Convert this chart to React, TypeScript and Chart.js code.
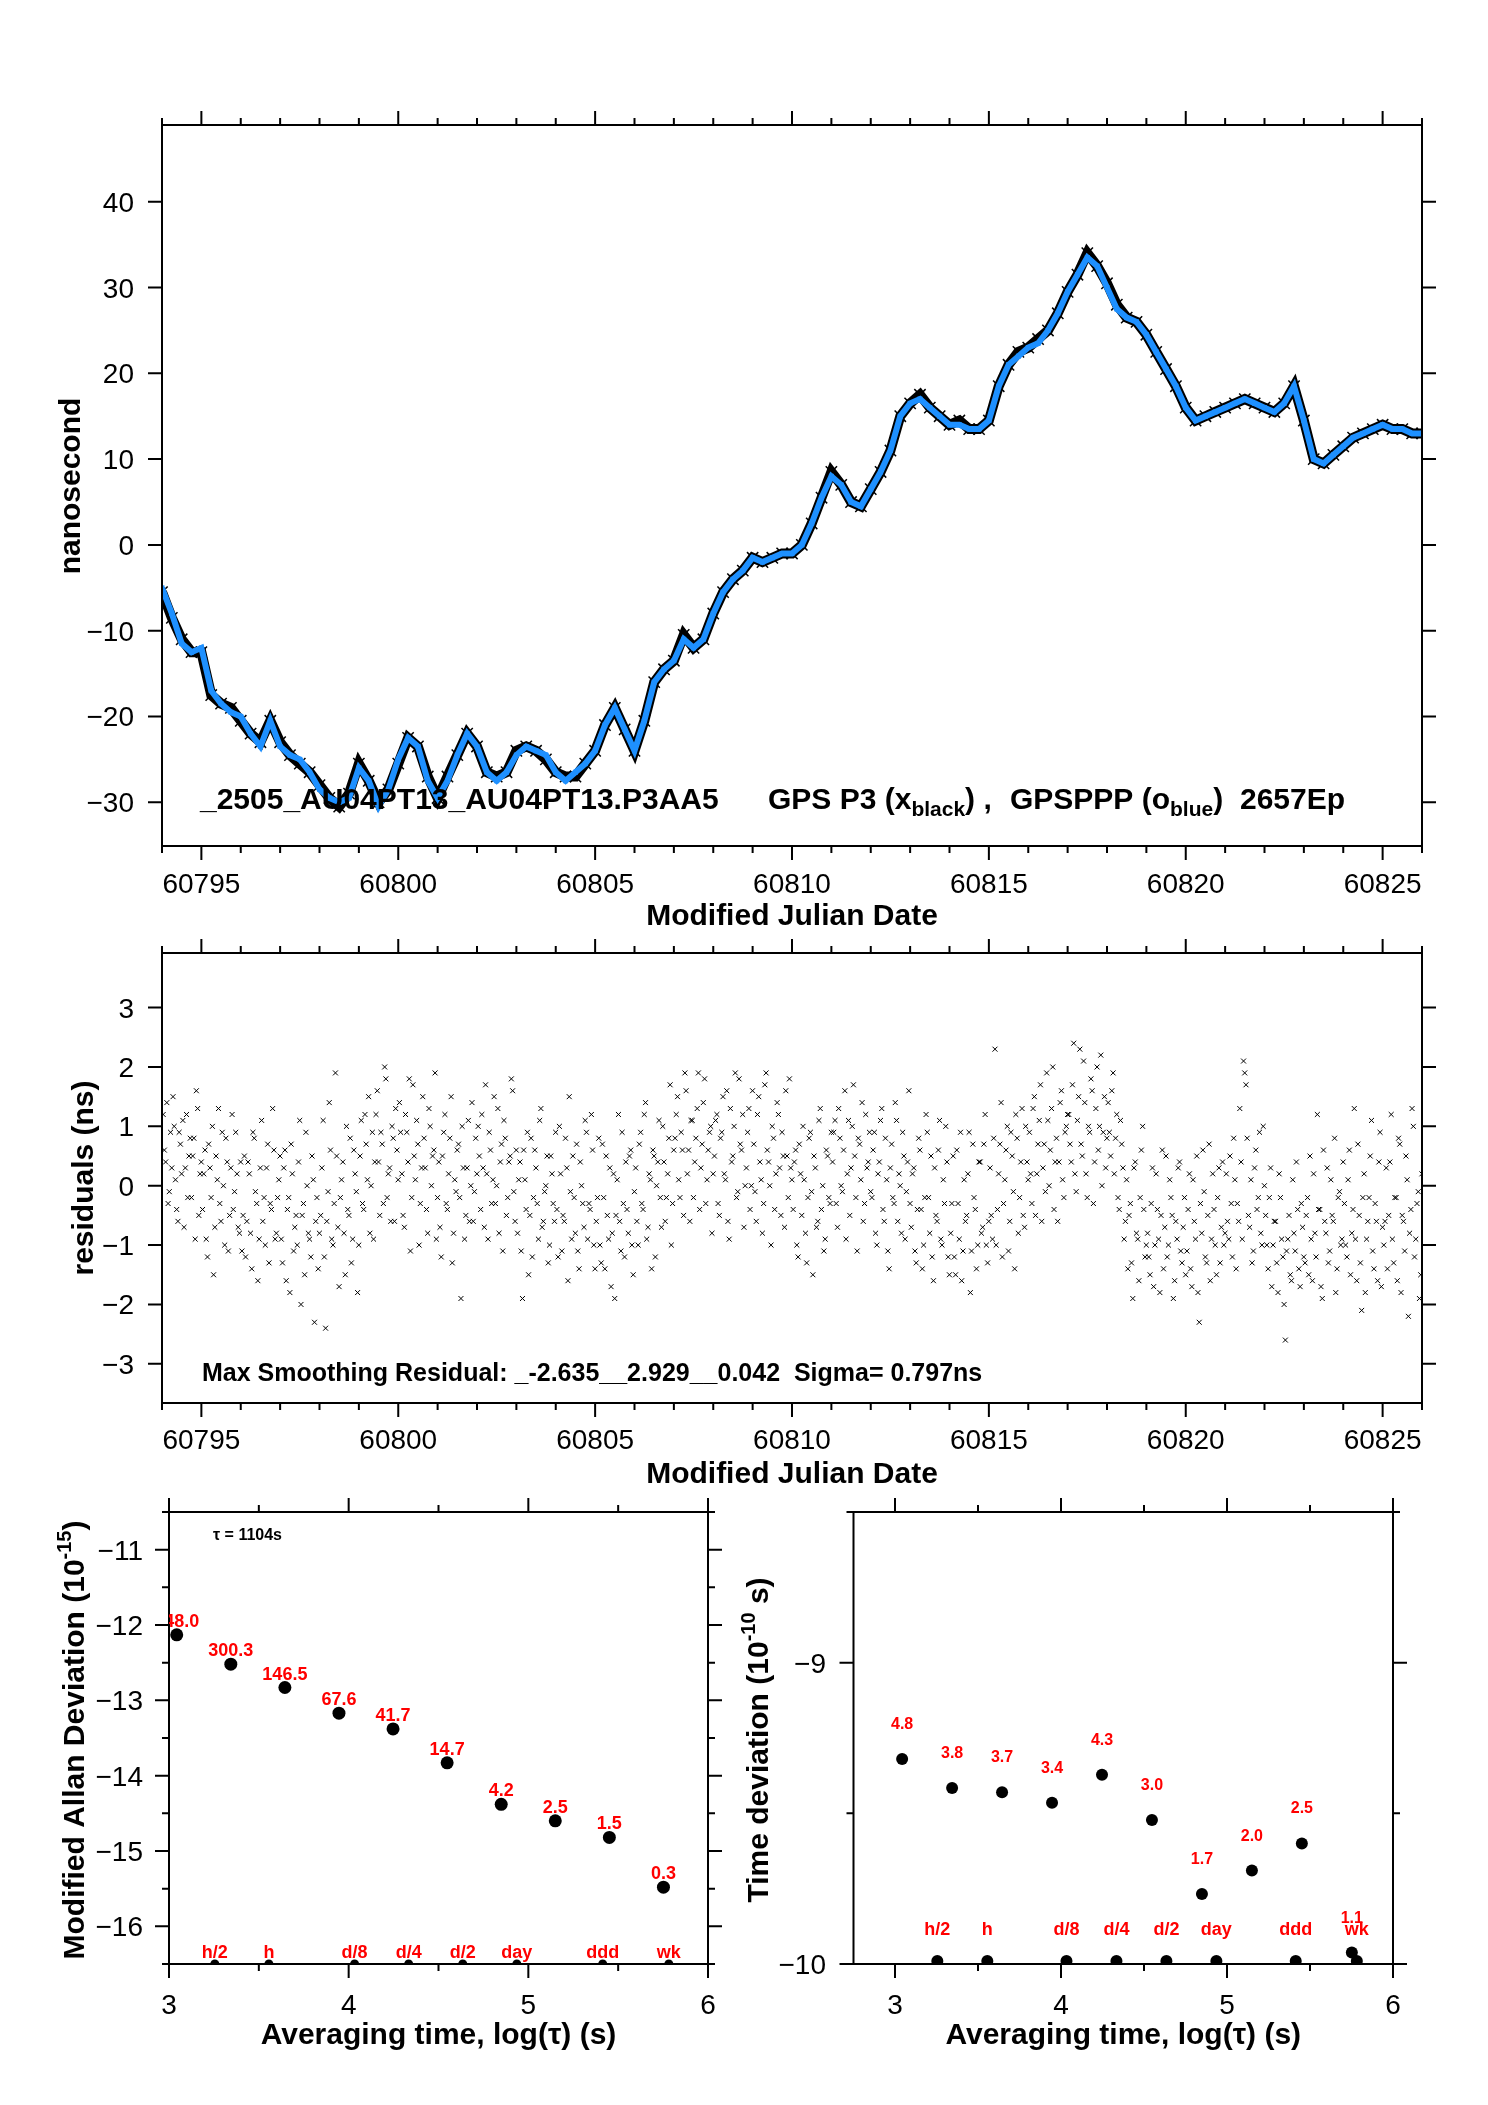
import React, { useEffect, useRef } from "react";
import { Chart, registerables } from "chart.js";
Chart.register(...registerables);

const FONT = '"Liberation Sans", Arial, Helvetica, sans-serif';

// ---------------- Top panel: time offset (ns) vs MJD ----------------
const offsetStartMjd = 60794;
const offsetStepDays = 0.25;
const gpsPppBlue = [
  -5, -8, -11.5, -12.5, -12, -17, -18.5, -19.5,
  -20, -22, -23.5, -20.5, -23.5, -24.5, -25, -26.5,
  -28.5, -29.5, -30, -29.5, -26, -27.5, -30.5, -28.5,
  -25, -22.5, -23.5, -27.5, -29.5, -27.5, -24.5, -22,
  -23.5, -26.5, -27.5, -26.5, -24.5, -23.5, -24, -24.5,
  -26.5, -27.5, -26.5, -25.5, -24, -21, -19, -21.5,
  -24, -20.5, -16, -14.5, -13.5, -11, -12, -11,
  -8, -5.5, -4, -3, -1.5, -2, -1.5, -1,
  -1, 0, 2.5, 5.5, 8, 7, 5, 4.5,
  6.5, 8.5, 11, 15, 16.5, 17, 16, 15,
  14, 14, 13.5, 13.5, 14.5, 18.5, 21, 22,
  23, 23.5, 25, 27, 29.5, 31.5, 33.5, 32.5,
  30, 27.5, 26.5, 26, 24.5, 22.5, 20.5, 18.5,
  16, 14.5, 15, 15.5, 16, 16.5, 17, 16.5,
  16, 15.5, 16.5, 18.5, 14.5, 10, 9.5, 10.5,
  11.5, 12.5, 13, 13.5, 14, 13.5, 13.5, 13,
  13,
];
const gpsP3Black = [
  -5.5, -8.5, -11, -12.5, -12.5, -17.5, -18.5, -19,
  -20.5, -22, -23, -20.5, -23, -24.5, -25.5, -26.5,
  -28, -29.5, -30.5, -29, -25.5, -27.5, -30, -28.5,
  -25.5, -22.5, -23.5, -27, -29.5, -27, -24.5, -22,
  -23.5, -26.5, -27, -26.5, -24, -23.5, -24, -25,
  -26.5, -27, -27, -25.5, -24, -21, -19, -21.5,
  -24, -20.5, -16, -14.5, -13.5, -10.5, -12, -11,
  -8, -5.5, -4, -3, -1.5, -2, -1.5, -1,
  -1, 0, 2.5, 5.5, 8.5, 7, 5, 4.5,
  6.5, 8.5, 11, 15, 16.5, 17.5, 16, 15,
  14, 14.5, 13.5, 13.5, 14.5, 18.5, 21, 22.5,
  23, 24, 25, 27, 29.5, 31.5, 34, 32.5,
  30.5, 28, 26.5, 26, 24.5, 22.5, 20.5, 18.5,
  16, 14.5, 15, 15.5, 16, 16.5, 17, 16.5,
  16, 15.5, 16.5, 18.5, 14.5, 10, 9.5, 10.5,
  11.5, 12.5, 13, 13.5, 14, 13.5, 13.5, 13,
  13,
];

// ---------------- Middle panel: residuals (ns) ----------------
const residualStepDays = 0.0625;
const residualStartMjdA = 60794.03;
const residualsNsA = [
  1.2, 0.4, -0.3, 0.9, 1.5, 0.1, -0.6, 0.7, 1.1, 0.3, -0.2, 0.8, 0.5, -0.9, 1.3, 0.2,
  -0.4, 0.6, -1.2, 0.3, 1.0, -0.7, 0.1, -0.3, 0.9, -1.0, 0.4, -0.5, 1.2, -0.1, 0.2, -0.8,
  -1.1, 0.5, -0.6, 0.2, -1.4, 0.8, -0.3, -0.9, 1.1, -0.2, 0.3, -1.3, -0.4, 0.6, -0.8, 0.1,
  -0.9, 0.3, -1.6, -0.2, 0.7, -1.1, -0.5, 0.4, -2.0, -0.3, 0.9, -0.8, -1.2, 0.1, -0.6, -1.4,
  -0.5, 1.1, -2.4, -0.1, 0.6, -1.0, 1.9, -0.7, -0.2, 0.4, -1.5, -0.4, 0.8, -0.9, 0.2, -1.8,
  0.5, -0.3, 1.2, 0.1, -0.8, 0.9, 0.4, 1.6, -0.5, 0.7, 2.0, -0.2, 0.3, 1.0, -0.6, 0.6,
  1.4, 0.2, -0.7, 0.9, 1.8, -0.2, 0.5, 1.1, -1.0, 0.3, 0.8, -0.4, 1.3, 0.0, 0.6, -0.9,
  0.4, -1.2, 0.9, -0.3, 0.2, 1.5, -0.8, -0.1, 0.7, -1.9, 0.3, -0.5, 1.1, 0.0, -0.6, 0.8,
  1.0, -0.4, 0.3, 1.7, -0.9, 0.6, 0.1, -0.3, 1.3, 0.4, -1.1, 0.8, -0.2, 0.5, 1.6, -0.6,
  -0.8, 0.4, -1.9, 0.1, 0.9, -0.5, -1.2, 0.6, -0.3, 1.1, -0.7, -0.1, 0.5, -1.0, 0.2, -0.6,
  -0.4, 1.0, -1.1, -0.6, 0.3, 1.5, -0.9, -0.2, 0.7, -1.4, 0.0, -0.7, 0.9, -0.3, 1.2, -1.0,
  -0.6, 0.8, -1.3, -0.2, 0.5, -0.9, -1.7, 0.2, -0.5, 1.2, -1.1, -0.3, 0.4, -0.8, 0.6, -1.5,
  0.3, -1.0, 0.9, -0.4, 1.4, -0.7, 0.1, 0.6, -1.2, 0.4, -0.2, 1.0, -0.6, 0.2, 1.7, -0.3,
  0.8, 1.5, -0.2, 0.6, 1.9, 0.2, -0.6, 1.1, 0.4, 1.3, -0.4, 0.7, 1.8, 0.1, 0.9, -0.8,
  0.5, 1.2, -0.5, 0.9, 0.2, 1.6, -0.9, 0.4, 1.0, -0.2, 1.8, 0.6, -0.7, 0.3, 1.3, 0.0,
  0.7, -0.6, 1.5, 0.1, -0.3, 1.9, 0.4, -1.0, 0.8, 0.2, 1.2, -0.5, 0.5, 1.6, -0.2, 0.3,
  -0.4, 0.6, -1.2, 0.2, 1.0, -0.8, -0.2, 0.9, -1.5, 0.3, -0.6, 1.3, 0.0, -0.9, 0.5, -0.3,
  0.4, 1.1, -0.7, 0.8, -0.1, 1.6, 0.2, -0.5, 1.0, 0.5, -1.1, 0.7, 1.4, -0.3, 0.3, 0.9,
  -0.2, 0.9, -1.0, 0.4, 1.3, -0.6, 0.1, -1.4, 0.7, -0.3, 1.1, 0.2, -0.8, 0.5, -0.1, 1.6,
  -0.7, 0.3, -1.3, 0.8, -0.4, -1.0, 1.2, -0.2, 0.5, -1.6, -0.5, 0.6, -0.9, 0.1, 1.0, -1.2,
  -0.8, 0.5, -1.5, -0.3, 0.9, -1.1, -0.6, 0.2, -1.8, 0.7, -0.4, -1.0, 0.4, -0.7, 1.2, -1.3,
  0.3, -0.9, 2.3, -0.4, 0.7, -1.2, 0.1, 1.0, -0.6, 0.5, -1.4, 0.8, -0.2, 1.3, -0.7, 0.4,
  0.9, -0.3, 1.5, 0.2, 1.1, -0.6, 0.7, 1.9, 0.0, 1.3, -0.4, 0.8, 0.4, 1.6, -0.2, 1.0,
  1.2, 0.4, 2.4, -0.1, 1.5, 0.7, 2.1, 0.2, 1.0, 1.8, -0.3, 1.3, 0.6, 2.2, 0.9, 0.3,
  1.4, 0.5, 1.9, 0.8, -0.2, 1.1, 0.3, -0.6, -1.4, -0.3, -1.9, 0.4, -0.9, -0.2, 1.0, -1.2,
  -0.8, -1.5, 0.3, -1.0, -0.4, -1.8, 0.6, -0.7, -1.2, 0.1, -0.5, -1.6, -0.9, 0.4, -1.3, -0.2,
  -1.1, 0.2, -1.7, -0.6, 0.5, -2.3, -0.8, -0.1, -1.3, 0.7, -0.9, -0.4, -1.5, 0.3, -0.7, -1.0,
  0.2, -0.9, -0.3, 0.8, -1.4, -0.6, 0.4, 2.1, 1.7, -0.5, 0.1, -1.1, 0.6, -0.2, -0.8, 1.0,
  -0.5, -1.4, 0.3, -1.0, -0.6, -1.8, -0.2, -1.2, -2.6, -0.9, -1.5, 0.1, -1.1, -0.4, -1.7, -0.7,
  -1.3, -0.2, 0.5, -1.6, -0.8, 1.2, -0.4, -1.9, -0.6, 0.3, -1.1, -0.5, 0.8, -1.4, -0.1, -0.9,
  -0.3, -1.2, 0.6, -0.8, 1.3, -1.6, -0.5, -2.1, 0.2, -0.9, -0.2, 1.1, -1.4, -0.6, 0.4, -1.7,
  -1.0, 0.3, -0.5, 1.2, -1.3, -0.2, 0.8, -1.8, -0.6, 0.5, -2.2, -0.4, 1.0, -0.9, -0.1, -1.5,
];
const residualStartMjdB = 60794.06;
const residualsNsB = [
  0.6, 1.4, -0.1, 0.3, 1.0, -0.4, 0.9, 0.2, -0.7, 1.2, 0.5, -0.2, 0.8, 1.6, -0.5, 0.4,
  0.2, -0.9, 0.7, -0.2, -1.5, 0.5, 1.3, -0.6, 0.0, 0.8, -1.1, 0.3, -0.4, 0.9, -0.7, 0.4,
  -0.5, -1.2, 0.4, -0.8, 0.9, -0.1, -1.6, 0.3, -0.6, -1.0, 0.7, -0.3, 1.3, -0.9, -0.2, 0.5,
  -1.3, 0.6, -0.4, -1.8, 0.2, -0.7, -1.0, 1.1, -0.5, -1.5, 0.0, -0.9, 0.5, -2.3, -0.2, -0.8,
  0.3, -1.2, -0.6, 1.4, -0.9, -0.3, 0.5, -1.7, 0.1, -0.8, 1.0, -0.5, -1.3, 0.6, -0.1, -1.0,
  1.1, -0.4, 0.7, 1.5, 0.0, -0.9, 1.2, 0.4, 0.9, -0.3, 1.8, 0.2, -0.6, 0.8, 1.3, 0.1,
  0.9, -0.5, 1.2, 0.4, -1.1, 1.7, 0.1, 0.7, -0.3, 1.5, 0.3, -0.8, 1.0, 0.5, 1.9, -0.2,
  -0.7, 0.5, 1.2, -0.4, 0.8, -1.3, 0.1, 0.6, -0.2, 1.0, -0.9, 0.3, -0.6, 1.4, -0.1, 0.2,
  0.5, 1.2, -0.7, 0.2, 0.9, -0.3, 1.5, 0.0, -0.8, 0.7, 1.1, -0.5, 0.4, 1.8, -0.1, 0.6,
  0.1, -1.1, 0.6, -0.4, -1.5, 0.8, -0.2, 0.3, -0.9, 1.3, -0.6, 0.0, -1.3, 0.5, -0.3, 0.9,
  -1.2, 0.2, -0.5, 0.8, -1.6, -0.1, 0.5, -0.8, -1.1, 0.4, -0.3, 1.1, -0.9, -0.4, 0.6, -1.4,
  -0.2, -1.0, 0.7, -1.4, -0.5, 0.3, -0.8, -1.9, 0.1, -0.6, 0.9, -1.2, -0.4, 0.5, -1.0, -0.1,
  -0.6, 0.7, -0.3, 1.2, -0.9, 0.2, -1.4, 0.5, 0.0, 1.1, -0.7, 0.4, -0.2, 0.8, -1.0, 0.6,
  1.2, 0.1, 0.9, -0.5, 1.6, 0.6, 1.1, -0.2, 0.8, 1.9, 0.3, 1.4, -0.3, 0.6, 1.0, 0.2,
  1.1, -0.3, 0.8, 1.5, 0.1, -0.6, 1.3, 0.5, 1.9, -0.1, 0.7, 1.2, 0.0, 0.9, -0.4, 1.6,
  -0.1, 1.2, 0.4, -0.8, 1.7, 0.6, 0.0, 1.0, -0.4, 1.4, 0.3, 0.9, -0.7, 0.5, 1.8, 0.1,
  0.4, -1.0, 0.7, -0.5, 0.1, -1.3, 0.8, -0.1, 0.5, -0.7, 1.1, -0.4, -1.1, 0.6, -0.2, 0.9,
  0.9, -0.3, 1.3, 0.0, 0.6, -0.9, 1.1, 0.3, 1.7, -0.2, 0.8, 0.1, -0.6, 1.2, 0.4, -0.1,
  0.6, -0.8, 0.2, 1.1, -0.4, 0.8, -1.1, 0.3, -0.2, 1.4, -0.6, 0.0, 0.9, -0.9, 0.4, -0.3,
  0.2, -1.1, -0.4, 0.6, -1.4, -0.2, 0.9, -0.8, -1.2, 0.3, -0.6, 1.1, -1.0, -0.3, 0.4, -1.5,
  -0.3, -1.2, 0.6, -0.9, -1.6, 0.1, -0.5, 0.9, -1.1, -0.2, -1.4, 0.4, -0.8, 0.7, -1.0, -0.6,
  -0.5, 0.8, -1.0, 0.2, 1.4, -0.3, 0.6, -1.1, 0.9, -0.1, 1.2, -0.8, 0.4, -0.5, 1.0, 0.1,
  0.2, 1.3, -0.5, 0.7, 1.7, 0.3, -0.1, 1.1, 0.6, 2.0, 0.4, -0.6, 1.4, 0.1, 0.9, 1.2,
  0.7, 1.7, 0.2, 1.1, 2.3, 0.5, 1.4, -0.2, 0.9, 1.6, 0.4, 2.0, 1.0, 0.0, 1.5, 0.8,
  0.9, 1.6, 0.2, 1.2, -0.4, 0.7, -0.9, 0.1, -0.5, -1.3, 0.3, -0.8, -1.6, 0.6, -0.4, -1.0,
  -1.2, -0.3, -1.7, 0.2, -0.9, -0.5, -1.4, 0.5, -1.0, -0.2, -1.9, -0.6, 0.3, -1.1, -0.7, -1.5,
  -0.4, -1.4, 0.1, -0.9, -1.8, -0.3, 0.6, -1.2, -0.5, -1.6, 0.2, -1.0, -0.2, -1.3, 0.4, -0.8,
  -0.6, 0.5, -1.2, 0.1, -0.3, 1.3, -0.9, 1.9, 0.8, -0.7, -1.3, 0.3, -0.4, 0.9, -1.0, 0.0,
  -1.0, -0.2, -1.7, -0.6, -1.3, 0.2, -0.9, -2.0, -1.1, -0.5, -1.6, -0.8, 0.4, -1.4, -0.3, -1.2,
  -0.5, -1.5, -0.9, 0.2, -1.2, -0.4, -1.7, 0.6, -0.8, -1.3, 0.1, -0.6, -1.8, -0.2, -1.0, 0.4,
  -1.0, 0.1, -1.5, -0.4, -0.9, 0.7, -1.3, -0.2, -1.8, -0.6, 0.5, -1.1, -0.3, -1.6, 0.9, -0.7,
  -0.6, -1.4, 0.4, -0.9, -0.2, -1.6, 0.7, -0.5, -1.1, 0.1, -0.8, 1.3, -1.2, -0.3, -1.9, 0.2,
];

// ---------------- Bottom panels: stability ----------------
const adevLogTau = [3.043, 3.344, 3.645, 3.946, 4.247, 4.548, 4.849, 5.15, 5.451, 5.752];
const adevLogValue = [-12.13, -12.52, -12.83, -13.17, -13.38, -13.83, -14.38, -14.6, -14.82, -15.48];
const adevLabels = ["748.0", "300.3", "146.5", "67.6", "41.7", "14.7", "4.2", "2.5", "1.5", "0.3"];

const tdevLogTau = [3.043, 3.344, 3.645, 3.946, 4.247, 4.548, 4.849, 5.15, 5.451, 5.752];
const tdevLogValue = [-9.32, -9.416, -9.43, -9.465, -9.372, -9.522, -9.768, -9.69, -9.6, -9.962];
const tdevLabels = ["4.8", "3.8", "3.7", "3.4", "4.3", "3.0", "1.7", "2.0", "2.5", "1.1"];

const markerLogTau = [3.255, 3.556, 4.033, 4.334, 4.635, 4.936, 5.414, 5.782];
const markerLabels = ["h/2", "h", "d/8", "d/4", "d/2", "day", "ddd", "wk"];
const adevMarkerLevel = -16.5;
const tdevMarkerLevel = -9.99;

// ---------------- Tick values ----------------
const mjdMajorTicks = [60795, 60800, 60805, 60810, 60815, 60820, 60825];
const offsetYTicks = [40, 30, 20, 10, 0, -10, -20, -30];
const residualYTicks = [3, 2, 1, 0, -1, -2, -3];
const adevYTicks = [-11, -12, -13, -14, -15, -16];
const tdevYTicks = [-9, -10];
const logTauTicks = [3, 4, 5, 6];

const range = (a: number, b: number, s: number) => {
  const r: number[] = [];
  for (let v = a; v <= b + 1e-9; v += s) r.push(Math.round(v * 1000) / 1000);
  return r;
};
const fmtNum = (v: number) => (v < 0 ? "\u2212" + Math.abs(v) : String(v));

type FrameSpec = {
  xMajor: number[];
  xMinor: number[];
  yMajor: number[];
  yMinor: number[];
  xLabels: number[];
  xLabelBaseline: number;
  yLabels: number[];
  yLabelRight: number;
  xTitle: string;
  xTitleBaseline: number;
  extra?: (chart: any) => void;
};

function drawFrame(chart: any, s: FrameSpec) {
  const ctx: CanvasRenderingContext2D = chart.ctx;
  const a = chart.chartArea;
  const xs = chart.scales.x;
  const ys = chart.scales.y;
  ctx.save();
  ctx.strokeStyle = "#000";
  ctx.lineWidth = 2;
  ctx.strokeRect(a.left, a.top, a.right - a.left, a.bottom - a.top);
  ctx.beginPath();
  const xt = (vals: number[], len: number) => {
    for (const v of vals) {
      const p = xs.getPixelForValue(v);
      ctx.moveTo(p, a.bottom);
      ctx.lineTo(p, a.bottom + len);
      ctx.moveTo(p, a.top);
      ctx.lineTo(p, a.top - len);
    }
  };
  const yt = (vals: number[], len: number) => {
    for (const v of vals) {
      const p = ys.getPixelForValue(v);
      ctx.moveTo(a.left, p);
      ctx.lineTo(a.left - len, p);
      ctx.moveTo(a.right, p);
      ctx.lineTo(a.right + len, p);
    }
  };
  xt(s.xMajor, 14);
  xt(s.xMinor, 7);
  yt(s.yMajor, 14);
  yt(s.yMinor, 7);
  ctx.stroke();

  ctx.fillStyle = "#000";
  ctx.textBaseline = "alphabetic";
  ctx.font = `28px ${FONT}`;
  ctx.textAlign = "center";
  for (const v of s.xLabels) ctx.fillText(fmtNum(v), xs.getPixelForValue(v), s.xLabelBaseline);
  ctx.textAlign = "right";
  for (const v of s.yLabels) ctx.fillText(fmtNum(v), s.yLabelRight, ys.getPixelForValue(v) + 10);
  ctx.font = `bold 30px ${FONT}`;
  ctx.textAlign = "center";
  ctx.fillText(s.xTitle, (a.left + a.right) / 2, s.xTitleBaseline);
  ctx.restore();
  if (s.extra) {
    ctx.save();
    s.extra(chart);
    ctx.restore();
  }
}

function rotatedTitle(ctx: CanvasRenderingContext2D, parts: { t: string; sup?: boolean }[], baselineX: number, centerY: number) {
  ctx.save();
  ctx.translate(baselineX, centerY);
  ctx.rotate(-Math.PI / 2);
  ctx.fillStyle = "#000";
  ctx.textAlign = "left";
  ctx.textBaseline = "alphabetic";
  const fMain = `bold 30px ${FONT}`;
  const fSup = `bold 20px ${FONT}`;
  let total = 0;
  const ws = parts.map((p) => {
    ctx.font = p.sup ? fSup : fMain;
    const w = ctx.measureText(p.t).width;
    total += w;
    return w;
  });
  let x = -total / 2;
  parts.forEach((p, i) => {
    ctx.font = p.sup ? fSup : fMain;
    ctx.fillText(p.t, x, p.sup ? -13 : 0);
    x += ws[i];
  });
  ctx.restore();
}

function seq(ctx: CanvasRenderingContext2D, pieces: { t: string; size: number; dy: number }[], x0: number, baseline: number) {
  let x = x0;
  ctx.textAlign = "left";
  ctx.textBaseline = "alphabetic";
  ctx.fillStyle = "#000";
  for (const p of pieces) {
    ctx.font = `bold ${p.size}px ${FONT}`;
    ctx.fillText(p.t, x, baseline + p.dy);
    x += ctx.measureText(p.t).width;
  }
}

function baseOptions(pad: { left: number; top: number; right: number; bottom: number }, xr: number[], yr: number[]): any {
  return {
    responsive: false,
    animation: false,
    events: [],
    layout: { padding: pad },
    plugins: { legend: { display: false }, tooltip: { enabled: false }, title: { display: false } },
    scales: {
      x: { type: "linear", min: xr[0], max: xr[1], display: false },
      y: { type: "linear", min: yr[0], max: yr[1], display: false },
    },
  };
}

const framePlugin = (id: string, spec: FrameSpec) => ({
  id,
  afterDraw(chart: any) {
    drawFrame(chart, spec);
  },
});

function makeOffsetChart(canvas: HTMLCanvasElement) {
  const xOf = (i: number) => offsetStartMjd + i * offsetStepDays;
  const spec: FrameSpec = {
    xMajor: mjdMajorTicks,
    xMinor: range(60794, 60826, 1),
    yMajor: offsetYTicks,
    yMinor: [],
    xLabels: mjdMajorTicks,
    xLabelBaseline: 893,
    yLabels: offsetYTicks,
    yLabelRight: 134,
    xTitle: "Modified Julian Date",
    xTitleBaseline: 925,
    extra: (chart) => {
      const ctx: CanvasRenderingContext2D = chart.ctx;
      rotatedTitle(ctx, [{ t: "nanosecond" }], 80, 486);
      seq(ctx, [{ t: "_2505_AU04PT13_AU04PT13.P3AA5", size: 30, dy: 0 }], 200, 809);
      seq(ctx, [
        { t: "GPS P3 (x", size: 30, dy: 0 },
        { t: "black", size: 21, dy: 7 },
        { t: ") ,", size: 30, dy: 0 },
      ], 768, 809);
      seq(ctx, [
        { t: "GPSPPP (o", size: 30, dy: 0 },
        { t: "blue", size: 21, dy: 7 },
        { t: ")", size: 30, dy: 0 },
      ], 1010, 809);
      seq(ctx, [{ t: "2657Ep", size: 30, dy: 0 }], 1240, 809);
    },
  };
  return new Chart(canvas, {
    type: "scatter",
    data: {
      datasets: [
        // first dataset is painted last (on top)
        {
          data: gpsPppBlue.map((v, i) => ({ x: xOf(i), y: v })),
          showLine: true,
          borderColor: "#1E90FF",
          borderWidth: 6,
          pointStyle: "rect",
          pointRadius: 3.5,
          pointBorderWidth: 0,
          pointBackgroundColor: "#1E90FF",
          clip: 0,
        } as any,
        {
          data: gpsP3Black.map((v, i) => ({ x: xOf(i), y: v })),
          showLine: true,
          borderColor: "#000",
          borderWidth: 10,
          pointStyle: "crossRot",
          pointRadius: 8,
          pointBorderWidth: 1.5,
          pointBorderColor: "#000",
          pointBackgroundColor: "#000",
          clip: 0,
        } as any,
      ],
    },
    options: baseOptions({ left: 162, top: 125, right: 66, bottom: 2105 - 846 }, [60794, 60826], [-35.1, 48.95]),
    plugins: [framePlugin("frameTop", spec)],
  });
}

function makeResidualChart(canvas: HTMLCanvasElement) {
  const spec: FrameSpec = {
    xMajor: mjdMajorTicks,
    xMinor: range(60794, 60826, 1),
    yMajor: residualYTicks,
    yMinor: [],
    xLabels: mjdMajorTicks,
    xLabelBaseline: 1449,
    yLabels: residualYTicks,
    yLabelRight: 134,
    xTitle: "Modified Julian Date",
    xTitleBaseline: 1483,
    extra: (chart) => {
      const ctx: CanvasRenderingContext2D = chart.ctx;
      rotatedTitle(ctx, [{ t: "residuals (ns)" }], 93, 1178);
      seq(ctx, [{ t: "Max Smoothing Residual: _-2.635__2.929__0.042  Sigma= 0.797ns", size: 25, dy: 0 }], 202, 1381);
    },
  };
  const crossStyle = {
    pointStyle: "crossRot",
    pointRadius: 3.5,
    pointBorderWidth: 1,
    pointBorderColor: "#000",
    pointBackgroundColor: "#000",
    clip: 0,
  };
  return new Chart(canvas, {
    type: "scatter",
    data: {
      datasets: [
        { data: residualsNsA.map((v, i) => ({ x: residualStartMjdA + i * residualStepDays, y: v })), ...crossStyle } as any,
        { data: residualsNsB.map((v, i) => ({ x: residualStartMjdB + i * residualStepDays, y: v })), ...crossStyle } as any,
      ],
    },
    options: baseOptions({ left: 162, top: 953, right: 66, bottom: 2105 - 1403 }, [60794, 60826], [-3.66, 3.92]),
    plugins: [framePlugin("frameRes", spec)],
  });
}

function drawPointLabels(chart: any, xsVals: number[], ysVals: number[], labels: string[], font: string, dy: number) {
  const ctx: CanvasRenderingContext2D = chart.ctx;
  const a = chart.chartArea;
  ctx.save();
  ctx.beginPath();
  ctx.rect(a.left, a.top, a.right - a.left, a.bottom - a.top);
  ctx.clip();
  ctx.fillStyle = "#FF0000";
  ctx.font = font;
  ctx.textAlign = "center";
  ctx.textBaseline = "alphabetic";
  labels.forEach((t, i) => {
    ctx.fillText(t, chart.scales.x.getPixelForValue(xsVals[i]), chart.scales.y.getPixelForValue(ysVals[i]) - dy);
  });
  ctx.restore();
}

function makeAdevChart(canvas: HTMLCanvasElement) {
  const spec: FrameSpec = {
    xMajor: logTauTicks,
    xMinor: [3.5, 4.5, 5.5],
    yMajor: adevYTicks,
    yMinor: [-10.5, -11.5, -12.5, -13.5, -14.5, -15.5, -16.5],
    xLabels: logTauTicks,
    xLabelBaseline: 2014,
    yLabels: adevYTicks,
    yLabelRight: 143,
    xTitle: "Averaging time, log(\u03C4) (s)",
    xTitleBaseline: 2044,
    extra: (chart) => {
      const ctx: CanvasRenderingContext2D = chart.ctx;
      rotatedTitle(ctx, [{ t: "Modified Allan Deviation (10" }, { t: "-15", sup: true }, { t: ")" }], 84, 1740);
      drawPointLabels(chart, adevLogTau, adevLogValue, adevLabels, `bold 18px ${FONT}`, 8);
      drawPointLabels(chart, markerLogTau, markerLogTau.map(() => adevMarkerLevel), markerLabels, `bold 18px ${FONT}`, 6);
      ctx.fillStyle = "#000";
      ctx.font = `bold 16px ${FONT}`;
      ctx.textAlign = "left";
      ctx.fillText("\u03C4 = 1104s", 213, 1540);
    },
  };
  return new Chart(canvas, {
    type: "scatter",
    data: {
      datasets: [
        {
          data: adevLogTau.map((x, i) => ({ x, y: adevLogValue[i] })),
          pointRadius: 6.5,
          pointBackgroundColor: "#000",
          pointBorderColor: "#000",
          pointBorderWidth: 0,
          clip: 0,
        } as any,
        {
          data: markerLogTau.map((x) => ({ x, y: adevMarkerLevel })),
          pointRadius: 4.5,
          pointBackgroundColor: "#000",
          pointBorderColor: "#000",
          pointBorderWidth: 0,
          clip: 0,
        } as any,
      ],
    },
    options: baseOptions({ left: 169, top: 1512, right: 1488 - 708, bottom: 2105 - 1964 }, [3, 6], [-16.5, -10.5]),
    plugins: [framePlugin("frameAdev", spec)],
  });
}

function makeTdevChart(canvas: HTMLCanvasElement) {
  const spec: FrameSpec = {
    xMajor: logTauTicks,
    xMinor: [3.5, 4.5, 5.5],
    yMajor: tdevYTicks,
    yMinor: [-8.5, -9.5],
    xLabels: logTauTicks,
    xLabelBaseline: 2014,
    yLabels: tdevYTicks,
    yLabelRight: 826,
    xTitle: "Averaging time, log(\u03C4) (s)",
    xTitleBaseline: 2044,
    extra: (chart) => {
      const ctx: CanvasRenderingContext2D = chart.ctx;
      rotatedTitle(ctx, [{ t: "Time deviation (10" }, { t: "-10", sup: true }, { t: " s)" }], 768, 1740);
      drawPointLabels(chart, tdevLogTau, tdevLogValue, tdevLabels, `bold 16px ${FONT}`, 30);
      drawPointLabels(chart, markerLogTau, markerLogTau.map(() => -10), markerLabels, `bold 18px ${FONT}`, 29);
    },
  };
  return new Chart(canvas, {
    type: "scatter",
    data: {
      datasets: [
        {
          data: tdevLogTau.map((x, i) => ({ x, y: tdevLogValue[i] })),
          pointRadius: 6,
          pointBackgroundColor: "#000",
          pointBorderColor: "#000",
          pointBorderWidth: 0,
          clip: 0,
        } as any,
        {
          data: markerLogTau.map((x) => ({ x, y: tdevMarkerLevel })),
          pointRadius: 6,
          pointBackgroundColor: "#000",
          pointBorderColor: "#000",
          pointBorderWidth: 0,
          clip: 0,
        } as any,
      ],
    },
    options: baseOptions({ left: 853.5, top: 1512, right: 1488 - 1393, bottom: 2105 - 1964 }, [2.75, 6], [-10, -8.5]),
    plugins: [framePlugin("frameTdev", spec)],
  });
}

function ChartCanvas({ make }: { make: (c: HTMLCanvasElement) => Chart }) {
  const ref = useRef<HTMLCanvasElement>(null);
  useEffect(() => {
    const ch = make(ref.current as HTMLCanvasElement);
    return () => ch.destroy();
  }, [make]);
  return (
    <canvas
      ref={ref}
      width={1488}
      height={2105}
      style={{ position: "absolute", left: 0, top: 0, width: 1488, height: 2105 }}
    />
  );
}

export default function App() {
  return (
    <div style={{ position: "absolute", left: 0, top: 0, width: 1488, height: 2105, background: "#fff", overflow: "hidden" }}>
      <ChartCanvas make={makeOffsetChart} />
      <ChartCanvas make={makeResidualChart} />
      <ChartCanvas make={makeAdevChart} />
      <ChartCanvas make={makeTdevChart} />
    </div>
  );
}
